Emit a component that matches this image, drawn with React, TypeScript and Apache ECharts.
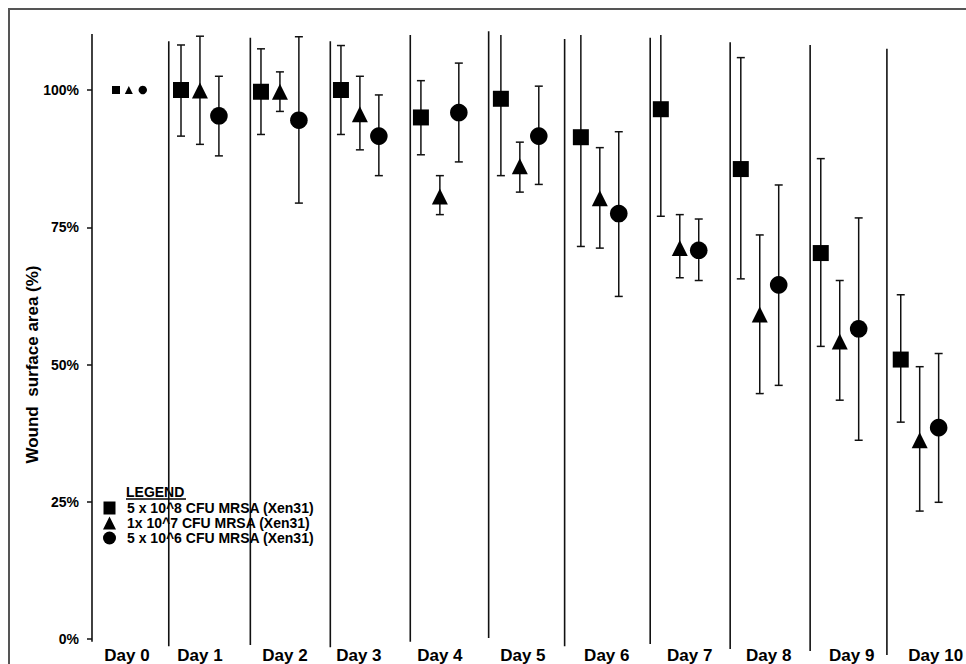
import React, { useEffect, useRef } from 'react';
import * as echarts from 'echarts';

// ---- data ----
const days = ['Day 0', 'Day 1', 'Day 2', 'Day 3', 'Day 4', 'Day 5', 'Day 6', 'Day 7', 'Day 8', 'Day 9', 'Day 10'];
const seriesNames = ['5 x 10^8 CFU MRSA (Xen31)', '1x 10^7 CFU MRSA (Xen31)', '5 x 10^6 CFU MRSA (Xen31)'];
const yTicks = [0, 25, 50, 75, 100];

const highMean = [100, 100, 99.7, 100, 95.0, 98.4, 91.4, 96.5, 85.6, 70.3, 50.9];
const highLow = [100, 91.6, 91.9, 91.9, 88.2, 84.4, 71.5, 77.0, 65.6, 53.3, 39.5];
const highHigh = [100, 108.2, 107.5, 108.1, 101.7, 110.5, 110.5, 110.5, 105.9, 87.5, 62.7];

const midMean = [100, 99.9, 99.7, 95.6, 80.6, 86.1, 80.3, 71.2, 59.1, 54.2, 36.2];
const midLow = [100, 90.1, 96.1, 89.1, 77.3, 81.4, 71.2, 65.8, 44.7, 43.5, 23.3];
const midHigh = [100, 109.8, 103.3, 102.5, 84.4, 90.5, 89.5, 77.3, 73.6, 65.3, 49.6];

const lowMean = [100, 95.3, 94.5, 91.6, 95.9, 91.6, 77.5, 70.8, 64.5, 56.5, 38.5];
const lowLow = [100, 88.0, 79.4, 84.4, 86.9, 82.8, 62.4, 65.3, 46.2, 36.2, 24.9];
const lowHigh = [100, 102.5, 109.7, 99.1, 104.9, 100.7, 92.4, 76.5, 82.7, 76.7, 52.0];

// vertical day separators (position in category units, top %, bottom %)
const sepPos = [-0.35, 0.61, 1.63, 2.63, 3.63, 4.61, 5.56, 6.63, 7.63, 8.63, 9.59];
const sepTop = [110.2, 108.9, 109.5, 108.9, 110.0, 110.7, 109.3, 109.5, 108.7, 108.2, 107.5];
const sepBottom = [-0.5, -1.3, -1.1, -1.5, -0.5, 0.2, -1.3, -0.9, -1.8, -2.2, -2.9];

const clipMax = 110; // error bars are cut here (no cap)

// ---- styles ----
const FONT = 'Liberation Sans, Arial, sans-serif';
const INK = '#111';
const groupShift = [-0.237, 0, 0.237];
const day0Shift = [-0.05, 0.11, 0.285];
const labelNudge = [7, 0, 5, -1, 0, 3, 7, 10, 9, 12, 16];

function makeRender(g: number) {
  return (params: any, api: any) => {
    const idx = api.value(0);
    const mean = api.value(1);
    const lo = api.value(2);
    const hi = api.value(3);
    const bw = api.size([1, 0])[0];
    const base = api.coord([idx, mean]);
    const first = idx === 0;
    const x = base[0] + (first ? day0Shift[g] : groupShift[g]) * bw;
    const y = base[1];
    const children: any[] = [];
    const st = { stroke: INK, lineWidth: 1.5, fill: null };
    if (hi - lo > 0.1) {
      const capped = hi <= clipMax;
      const yHi = api.coord([idx, Math.min(hi, clipMax)])[1];
      const yLo = api.coord([idx, lo])[1];
      children.push({ type: 'line', shape: { x1: x, y1: yHi, x2: x, y2: yLo }, style: st });
      if (capped) children.push({ type: 'line', shape: { x1: x - 4, y1: yHi, x2: x + 4, y2: yHi }, style: st });
      children.push({ type: 'line', shape: { x1: x - 4, y1: yLo, x2: x + 4, y2: yLo }, style: st });
    }
    const s = first ? 8 : 16;
    if (g === 0) {
      children.push({ type: 'rect', shape: { x: x - s / 2, y: y - s / 2, width: s, height: s }, style: { fill: '#000' } });
    } else if (g === 1) {
      children.push({
        type: 'polygon',
        shape: { points: [[x, y - s / 2], [x + s / 2, y + s / 2], [x - s / 2, y + s / 2]] },
        style: { fill: '#000' },
      });
    } else {
      children.push({ type: 'circle', shape: { cx: x, cy: y, r: first ? 4.2 : 8.8 }, style: { fill: '#000' } });
    }
    return { type: 'group', children };
  };
}

function sepRender(params: any, api: any) {
  const bw = api.size([1, 0])[0];
  const top = api.coord([0, api.value(1)]);
  const bot = api.coord([0, api.value(2)]);
  const x = top[0] + api.value(3) * bw;
  return {
    type: 'line',
    shape: { x1: x, y1: top[1], x2: x, y2: bot[1] },
    style: { stroke: INK, lineWidth: 1.6 },
  };
}

export default function App() {
  const ref = useRef<HTMLDivElement>(null);
  useEffect(() => {
    if (!ref.current) return;
    const chart = echarts.init(ref.current, undefined, { renderer: 'svg' });
    const groups = [
      [highMean, highLow, highHigh],
      [midMean, midLow, midHigh],
      [lowMean, lowLow, lowHigh],
    ];
    const rich: any = {};
    labelNudge.forEach((n, i) => {
      rich['n' + i] = {
        fontFamily: FONT,
        fontSize: 17,
        fontWeight: 'bold',
        color: '#000',
        padding: n >= 0 ? [0, 0, 0, 2 * n] : [0, -2 * n, 0, 0],
      };
    });
    const option: any = {
      animation: false,
      textStyle: { fontFamily: FONT },
      grid: { left: 80, right: 4, top: 90, bottom: 24, containLabel: false },
      xAxis: {
        type: 'category',
        data: days,
        boundaryGap: true,
        axisLine: { show: false },
        axisTick: { show: false },
        axisLabel: {
          interval: 0,
          margin: 8,
          formatter: (v: string, i: number) => `{n${i}|${v}}`,
          rich,
        },
        splitLine: { show: false },
      },
      yAxis: {
        type: 'value',
        min: 0,
        max: 100,
        interval: 25,
        offset: -12,
        name: 'Wound  surface area (%)',
        nameLocation: 'middle',
        nameRotate: 90,
        nameGap: 51,
        nameMoveOverlap: false,
        nameTextStyle: { fontFamily: FONT, fontSize: 17, fontWeight: 'bold', color: '#000' },
        axisLine: { show: false },
        axisTick: { show: true, length: 5, lineStyle: { color: INK, width: 1.5 } },
        axisLabel: {
          margin: 13,
          fontFamily: FONT,
          fontSize: 14,
          fontWeight: 'bold',
          color: '#000',
          formatter: (v: number) => (yTicks.includes(v) ? v + '%' : ''),
        },
        splitLine: { show: false },
      },
      legend: {
        orient: 'vertical',
        left: 103,
        top: 501,
        padding: 0,
        itemGap: 1,
        itemWidth: 13,
        itemHeight: 13,
        symbolKeepAspect: true,
        textStyle: { fontFamily: FONT, fontSize: 14, fontWeight: 'bold', color: '#000', padding: [0, 0, 0, 6] },
        data: [
          { name: seriesNames[0], icon: 'path://M0,0H12V13H0Z' },
          { name: seriesNames[1], icon: 'path://M7,0L14,14L0,14Z' },
          { name: seriesNames[2], icon: 'path://M5,0A5,5 0 1 1 5,10A5,5 0 1 1 5,0Z' },
        ],
      },
      graphic: [
        {
          type: 'rect',
          silent: true,
          z: -10,
          shape: { x: 9, y: 9, width: 1200, height: 900 },
          style: { fill: 'none', stroke: '#555', lineWidth: 2 },
        },
        {
          type: 'text',
          x: 126,
          y: 492,
          style: { text: 'LEGEND', font: `bold 14px ${FONT}`, fill: '#000', verticalAlign: 'middle' },
        },
        {
          type: 'line',
          shape: { x1: 126, y1: 499, x2: 186, y2: 499 },
          style: { stroke: '#000', lineWidth: 1.5 },
        },
      ],
      series: [
        {
          type: 'custom',
          name: 'separators',
          silent: true,
          clip: false,
          encode: { x: 0, y: [1, 2] },
          data: sepPos.map((p, i) => [0, sepTop[i], sepBottom[i], p]),
          renderItem: sepRender,
        },
        ...groups.map((grp, g) => ({
          type: 'custom',
          name: seriesNames[g],
          clip: false,
          itemStyle: { color: '#000' },
          encode: { x: 0, y: [1, 2, 3] },
          data: days.map((_, i) => [i, grp[0][i], grp[1][i], grp[2][i]]),
          renderItem: makeRender(g),
        })),
      ],
    };
    chart.setOption(option);
    return () => chart.dispose();
  }, []);
  return <div ref={ref} style={{ position: 'fixed', left: 0, top: 0, width: 966, height: 664, background: '#fff' }} />;
}
